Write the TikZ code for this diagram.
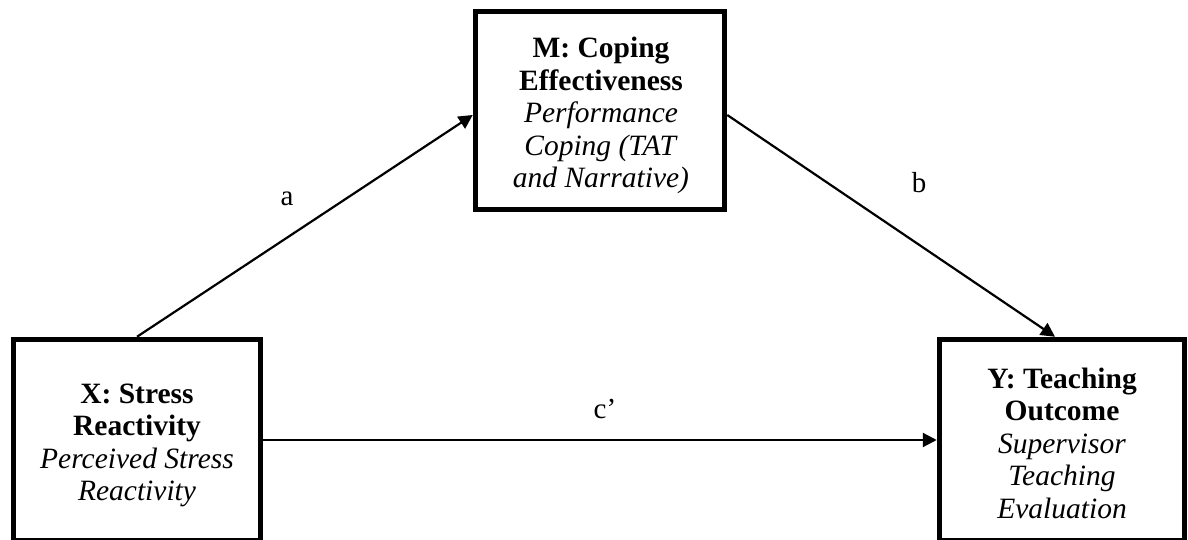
\documentclass[tikz,border=0pt]{standalone}
\usepackage{fontspec}
\setmainfont{Liberation Serif}
\usetikzlibrary{arrows.meta,calc}
\begin{document}
\begin{tikzpicture}[x=1pt,y=-1pt,
  box/.style={draw,line width=5.5pt,inner sep=0pt},
  txt/.style={align=center,inner sep=0pt,font=\fontsize{29.5}{32.5}\selectfont},
  conn/.style={line width=2.2pt,-{Triangle[length=14pt,width=14pt]}},
  lbl/.style={anchor=base,inner sep=0pt,font=\fontsize{29}{30}\selectfont}]
\useasboundingbox (0,0) rectangle (1188,540);
\node[box,minimum width=247pt,minimum height=201pt] (X) at (137,440) {};
\node[box,minimum width=249pt,minimum height=198pt] (M) at (600,110.5) {};
\node[box,minimum width=245pt,minimum height=201pt] (Y) at (1062,440) {};
\node[txt] (Xt) at ($(X.center)+(0,5.5)$) {\textbf{X: Stress}\\ \textbf{Reactivity}\\ \textit{Perceived Stress}\\ \textit{Reactivity}};
\node[txt] (Mt) at ($(M.center)+(1,5)$) {\textbf{M: Coping}\\ \textbf{Effectiveness}\\ \textit{Performance}\\ \textit{Coping (TAT}\\ \textit{and Narrative)}};
\node[txt] (Yt) at ($(Y.center)+(0,3)$) {\textbf{Y: Teaching}\\ \textbf{Outcome}\\ \textit{Supervisor}\\ \textit{Teaching}\\ \textit{Evaluation}};
\draw[conn] (X.north) -- ($(M.west)+(0,4.5)$);
\draw[conn] ($(M.east)+(0,4.5)$) -- ($(Y.north)+(-7,0)$);
\draw[conn] (X.east) -- (Y.west);
\node[lbl] (la) at (287,205) {a};
\node[lbl] (lb) at (919,193) {b};
\node[lbl] (lc) at (605,418) {c’};
\end{tikzpicture}
\end{document}
